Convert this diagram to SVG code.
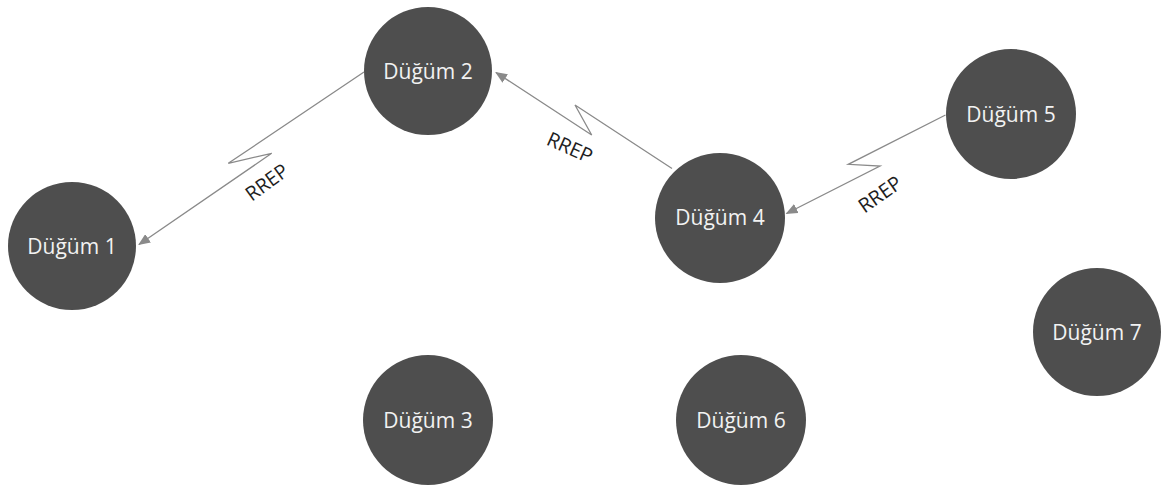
<svg xmlns="http://www.w3.org/2000/svg" width="1163" height="489" viewBox="0 0 1163 489">
  <style>
    .node circle { fill: #4e4e4e; }
    .node text { font-family: "Open Sans", "Noto Sans", sans-serif; font-size: 21px; fill: #f2f2f2; text-anchor: middle; }
    .link { fill: none; stroke: #8a8a8a; stroke-width: 1.3; stroke-linejoin: miter; }
    .label { font-family: "Open Sans", "Noto Sans", sans-serif; font-size: 20px; fill: #1e1e1e; text-anchor: middle; }
  </style>
  <defs>
    <marker id="arrow" viewBox="0 0 12 10" refX="11" refY="5" markerWidth="12" markerHeight="10" markerUnits="userSpaceOnUse" orient="auto">
      <path d="M0,0 L12,5 L0,10 Z" fill="#8a8a8a"/>
    </marker>
  </defs>
  <rect width="1163" height="489" fill="#ffffff"/>

  <!-- RREP connectors with lightning jags -->
  <g id="connectors">
    <polyline class="link" points="364,72 228.3,163.3 271.7,153.3 139,244.5" marker-end="url(#arrow)"/>
    <polyline class="link" points="672,168.5 575,105 591.7,135 496,72.5" marker-end="url(#arrow)"/>
    <polyline class="link" points="945.5,115 848.3,164.3 880,166 786.5,213.5" marker-end="url(#arrow)"/>
    <text class="label" transform="translate(271,188) rotate(-36)">RREP</text>
    <text class="label" transform="translate(567,154) rotate(24)">RREP</text>
    <text class="label" transform="translate(884,200) rotate(-35)">RREP</text>
  </g>

  <g id="node1" class="node">
    <circle cx="72" cy="246" r="64"/>
    <text x="72" y="254">Düğüm 1</text>
  </g>
  <g id="node2" class="node">
    <circle cx="428" cy="71" r="64"/>
    <text x="428" y="79">Düğüm 2</text>
  </g>
  <g id="node3" class="node">
    <circle cx="428" cy="420" r="65"/>
    <text x="428" y="428">Düğüm 3</text>
  </g>
  <g id="node4" class="node">
    <circle cx="720" cy="218" r="65"/>
    <text x="720" y="225">Düğüm 4</text>
  </g>
  <g id="node5" class="node">
    <circle cx="1011" cy="114" r="65"/>
    <text x="1011" y="122">Düğüm 5</text>
  </g>
  <g id="node6" class="node">
    <circle cx="741" cy="420" r="65"/>
    <text x="741" y="428">Düğüm 6</text>
  </g>
  <g id="node7" class="node">
    <circle cx="1097" cy="332" r="64"/>
    <text x="1097" y="340">Düğüm 7</text>
  </g>
</svg>
